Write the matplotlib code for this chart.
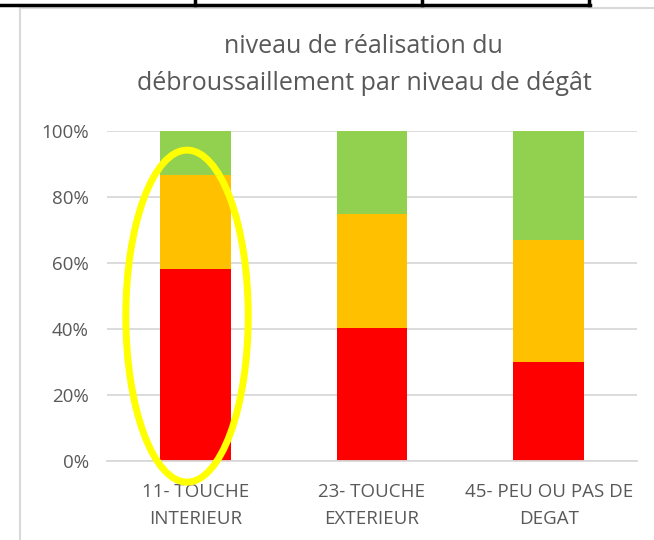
import matplotlib
matplotlib.use("Agg")
import matplotlib.pyplot as plt
from matplotlib.patches import Ellipse
from matplotlib.lines import Line2D
from matplotlib.ticker import PercentFormatter

plt.rcParams["font.family"] = ["Open Sans", "DejaVu Sans"]

# -----------------------------
# Data
# -----------------------------
categories = ["11- TOUCHE\nINTERIEUR", "23- TOUCHE\nEXTERIEUR", "45- PEU OU PAS DE\nDEGAT"]
red_vals = [58.2, 40.3, 30.0]
orange_vals = [28.6, 34.7, 36.9]
green_vals = [13.2, 25.0, 33.1]

TEXT = "#595959"
GRID = "#d9d9d9"

fig = plt.figure(figsize=(6.54, 5.40), dpi=100)
ax = fig.add_axes([0.1636, 0.1463, 0.8104, 0.6111])

x = range(len(categories))
bottom2 = [r + o for r, o in zip(red_vals, orange_vals)]
ax.bar(x, red_vals, width=0.4, color="#FF0000", zorder=2)
ax.bar(x, orange_vals, width=0.4, bottom=red_vals, color="#FFC000", zorder=2)
ax.bar(x, green_vals, width=0.4, bottom=bottom2, color="#92D050", zorder=2)

ax.set_xlim(-0.5, 2.5)
ax.set_ylim(0, 100)
ax.set_yticks([0, 20, 40, 60, 80, 100])
ax.yaxis.set_major_formatter(PercentFormatter(decimals=0))
ax.grid(axis="y", color=GRID, linewidth=1.3, zorder=0)
ax.set_xticks(list(x))
ax.set_xticklabels(categories, linespacing=1.6)
for s in ["top", "right", "left"]:
    ax.spines[s].set_visible(False)
ax.spines["bottom"].set_color(GRID)
ax.spines["bottom"].set_linewidth(1.3)
ax.tick_params(axis="both", length=0, colors=TEXT, labelsize=13.5)
ax.tick_params(axis="y", pad=13)
ax.tick_params(axis="x", pad=16)

# highlight circle around the first bar
ell = Ellipse((-0.047, 43.9), 0.693, 100.6, fill=False, edgecolor="#FFFF00",
              linewidth=5, clip_on=False, zorder=5)
ax.add_patch(ell)

fig.text(0.555, 0.913, "niveau de réalisation du", ha="center", va="center",
         fontsize=18, color=TEXT)
fig.text(0.557, 0.846, "débroussaillement par niveau de dégât", ha="center",
         va="center", fontsize=18, color=TEXT)

# chart frame and the table border above it
fig.add_artist(Line2D([0.031, 0.031], [0, 0.985], color=GRID, linewidth=1.5))
fig.add_artist(Line2D([0.031, 1.0], [0.985, 0.985], color=GRID, linewidth=1.5))
fig.add_artist(Line2D([0, 0.902], [0.991, 0.991], color="black", linewidth=2.5))
for xv in [0.298, 0.645, 0.901]:
    fig.add_artist(Line2D([xv, xv], [0.991, 1.0], color="black", linewidth=2.5))

fig.savefig("out.png", dpi=100)
